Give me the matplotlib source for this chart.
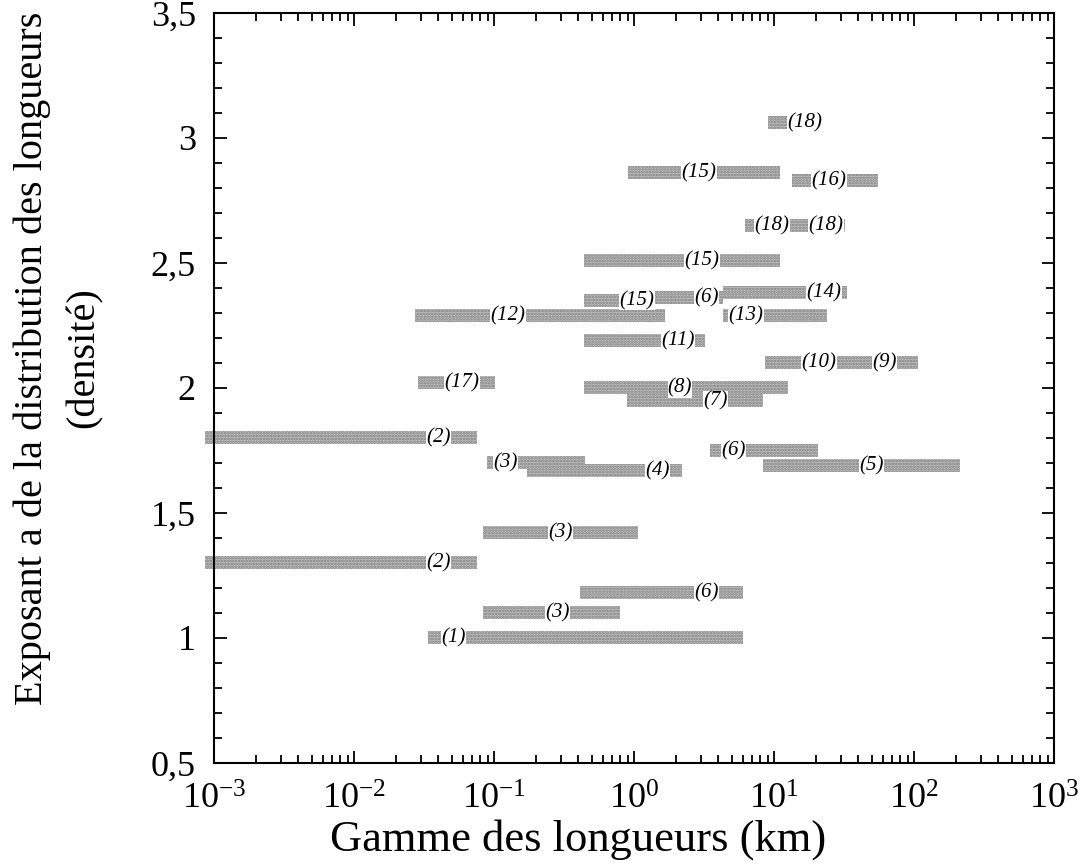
import numpy as np
import matplotlib
matplotlib.use("Agg")
import matplotlib.pyplot as plt
from matplotlib.ticker import FixedLocator, LogLocator, NullFormatter

plt.rcParams['font.family'] = ['Liberation Serif', 'DejaVu Serif']
plt.rcParams['mathtext.fontset'] = 'custom'
plt.rcParams['mathtext.rm'] = 'Liberation Serif'
plt.rcParams['mathtext.it'] = 'Liberation Serif:italic'
plt.rcParams['hatch.linewidth'] = 1.3

# ---- data: reference label, exponent a, length range start/end (km), label position (km)
labels  = ["(1)", "(3)", "(6)", "(2)", "(3)", "(3)", "(4)", "(2)", "(6)", "(5)",
           "(7)", "(8)", "(17)", "(10)", "(9)", "(11)", "(12)", "(13)", "(15)", "(6)",
           "(14)", "(15)", "(18)", "(15)", "(16)", "(18)"]
exponent = [1.00, 1.10, 1.18, 1.30, 1.42, 1.70, 1.67, 1.80, 1.75, 1.69,
            1.95, 2.00, 2.02, 2.10, 2.10, 2.19, 2.29, 2.29, 2.35, 2.36,
            2.38, 2.51, 2.65, 2.86, 2.83, 3.06]
l_min = [0.034, 0.083, 0.41, 0.00086, 0.083, 0.089, 0.172, 0.00086, 3.5, 8.3,
         0.89, 0.44, 0.0286, 8.6, 36, 0.44, 0.0273, 4.32, 0.44, 1.2,
         4.32, 0.44, 6.2, 0.906, 13.4, 9.06]
l_max = [6.0, 0.80, 6.0, 0.076, 1.07, 0.45, 2.2, 0.076, 20.6, 213,
         8.3, 12.6, 0.102, 36, 107, 3.21, 1.66, 23.9, 1.2, 4.3,
         33.2, 11.0, 32, 11.0, 55.3, 14]
label_pos = [0.051, 0.286, 3.3, 0.04, 0.30, 0.12, 1.48, 0.04, 5.1, 50,
             3.8, 2.13, 0.059, 21, 62, 2.06, 0.126, 6.3, 1.05, 3.3,
             22.8, 3.06, 9.7, 2.91, 24.7, 16.6]
extra_labels = [("(18)", 2.65, 23.5)]  # second label on the shared (18) bar

yticks = [0.5, 1.0, 1.5, 2.0, 2.5, 3.0, 3.5]
ytick_labels = ["0,5", "1", "1,5", "2", "2,5", "3", "3,5"]
xticks = [1e-3, 1e-2, 1e-1, 1e0, 1e1, 1e2, 1e3]
xtick_labels = [r"$\mathregular{10^{-3}}$", r"$\mathregular{10^{-2}}$", r"$\mathregular{10^{-1}}$",
                r"$\mathregular{10^{0}}$", r"$\mathregular{10^{1}}$", r"$\mathregular{10^{2}}$",
                r"$\mathregular{10^{3}}$"]

W, H = 1081, 865
fig = plt.figure(figsize=(W / 100, H / 100), dpi=100)
ax = fig.add_axes([0.198, 0.118, 0.777, 0.867])
ax.set_xscale('log')

widths = np.array(l_max) - np.array(l_min)
ax.barh(exponent, widths, left=l_min, height=0.052, color='#c6c6c6',
        edgecolor='#7a7a7a', hatch='......', linewidth=0, zorder=2, clip_on=False)

lab_style = dict(ha='center', va='center', fontsize=15, style='italic', zorder=4,
                 bbox=dict(facecolor='white', edgecolor='none', pad=0.2))
for lab, yv, xv in zip(labels, exponent, label_pos):
    ax.text(xv, yv, lab, **lab_style)
for lab, yv, xv in extra_labels:
    ax.text(xv, yv, lab, **lab_style)

ax.set_xlim(1e-3, 1e3)
ax.set_ylim(0.5, 3.5)
ax.set_xticks(xticks)
ax.set_xticklabels(xtick_labels, fontsize=26)
ax.xaxis.set_minor_locator(LogLocator(base=10, subs=np.arange(2, 10)))
ax.xaxis.set_minor_formatter(NullFormatter())
ax.set_yticks(yticks)
ax.set_yticklabels(ytick_labels, fontsize=26)
ax.yaxis.set_minor_locator(FixedLocator(np.arange(0.5, 3.51, 0.1)))

ax.tick_params(which='both', direction='in', top=True, right=True, width=1.3)
ax.tick_params(which='major', length=9)
ax.tick_params(which='minor', length=5.5)
ax.tick_params(axis='y', which='major', pad=13)
ax.tick_params(axis='x', which='major', pad=15)
for s in ax.spines.values():
    s.set_linewidth(1.5)

fig.text(578 / W, 1 - 840 / H, "Gamme des longueurs (km)", fontsize=32,
         ha='center', va='center')
fig.text(32 / W, 1 - 358 / H, "Exposant a de la distribution des longueurs",
         fontsize=29, ha='center', va='center', rotation=90)
fig.text(84 / W, 1 - 358 / H, "(densité)",
         fontsize=29, ha='center', va='center', rotation=90)

fig.savefig("out.png", dpi=100)
